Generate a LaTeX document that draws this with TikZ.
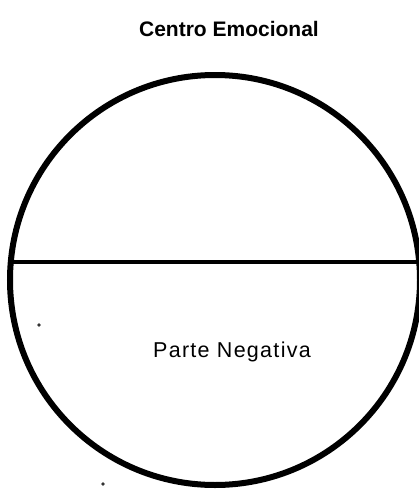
\documentclass[tikz,border=0pt]{standalone}
\usepackage{fontspec}
\setmainfont{Liberation Sans}
\begin{document}
\begin{tikzpicture}[x=1pt,y=-1pt,
  outline/.style={line width=6pt},
  divider/.style={line width=4.5pt},
  titletext/.style={font=\fontsize{21}{25}\selectfont\bfseries},
  labeltext/.style={font=\fontsize{21.5}{25}\selectfont\addfontfeature{LetterSpace=6}},
  speck/.style={fill=black!80}]
\useasboundingbox[fill=white] (0,0) rectangle (419,493);
\node[titletext] (title) at (229,29) {Centro Emocional};
\draw[outline] (215,280) circle[radius=205];
\coordinate (L) at (11,262);
\coordinate (R) at (419,262);
\draw[divider] (L) -- (R);
\node[labeltext] (neg) at (232,352) {Parte Negativa};
\fill[speck] (39,325) circle[radius=1.8];
\fill[speck] (103,484) circle[radius=1.8];
\end{tikzpicture}
\end{document}
